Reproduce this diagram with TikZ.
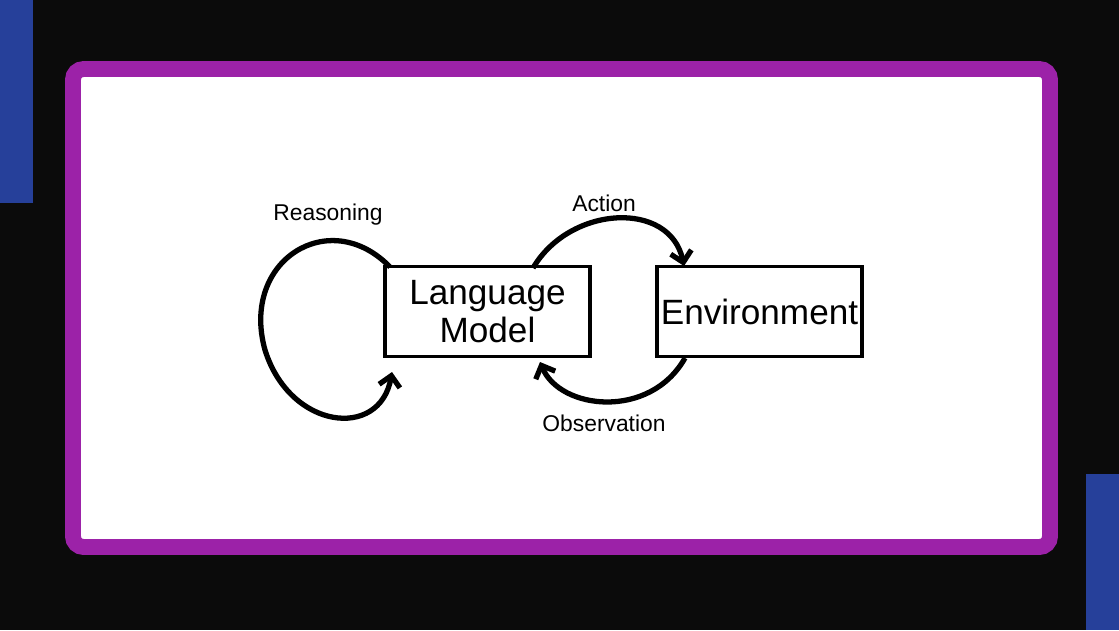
\documentclass[tikz,border=0pt]{standalone}
\usepackage{fontspec}
\setmainfont{Liberation Sans}
\usetikzlibrary{arrows.meta}
\definecolor{bgdark}{HTML}{0B0B0B}
\definecolor{barblue}{HTML}{26409A}
\definecolor{framepurple}{HTML}{9C22A8}
\begin{document}
\begin{tikzpicture}
        [x=0.02cm,y=-0.02cm,
         box/.style={draw,line width=2.2pt,minimum width=4.1cm,minimum height=1.8cm,inner sep=0pt,align=center,font=\fontsize{20}{22}\selectfont},
         lbl/.style={font=\fontsize{13}{13}\selectfont},
         loop/.style={line width=3pt,-{Straight Barb[length=6pt,width=12pt,line width=3pt]}}]
        \fill[bgdark] (0,0) rectangle (1119,630);
        \useasboundingbox (0,0) rectangle (1119,630);
        \fill[barblue] (0,0) rectangle (33,203);
        \fill[barblue] (1086,474) rectangle (1119,630);
        \draw[framepurple,fill=white,line width=9pt,rounded corners=6pt] (73,69) rectangle (1050,547);
        
        \node[box] (lm) at (487.5,311.5) {Language\\Model};
        \node[box] (env) at (759.5,311.5) {Environment};
        
        \coordinate (rs) at (390,267);
        \coordinate (re) at (392,372);
        \coordinate (as) at (533,268);
        \coordinate (ae) at (684,266);
        \coordinate (os) at (685,358);
        \coordinate (oe) at (540,362);
        
        \draw[loop] (rs) .. controls (330,205) and (240,260) .. (265,350)
            .. controls (290,430) and (380,440) .. (re);
        \draw[loop] (as) .. controls (570,205) and (670,200) .. (ae);
        \draw[loop] (os) .. controls (650,420) and (560,410) .. (oe);
        
        \node[lbl] (reason) at (328,215) {Reasoning};
        \node[lbl] (act) at (604,203) {Action};
        \node[lbl] (obs) at (604,423) {Observation};
\end{tikzpicture}
\end{document}
